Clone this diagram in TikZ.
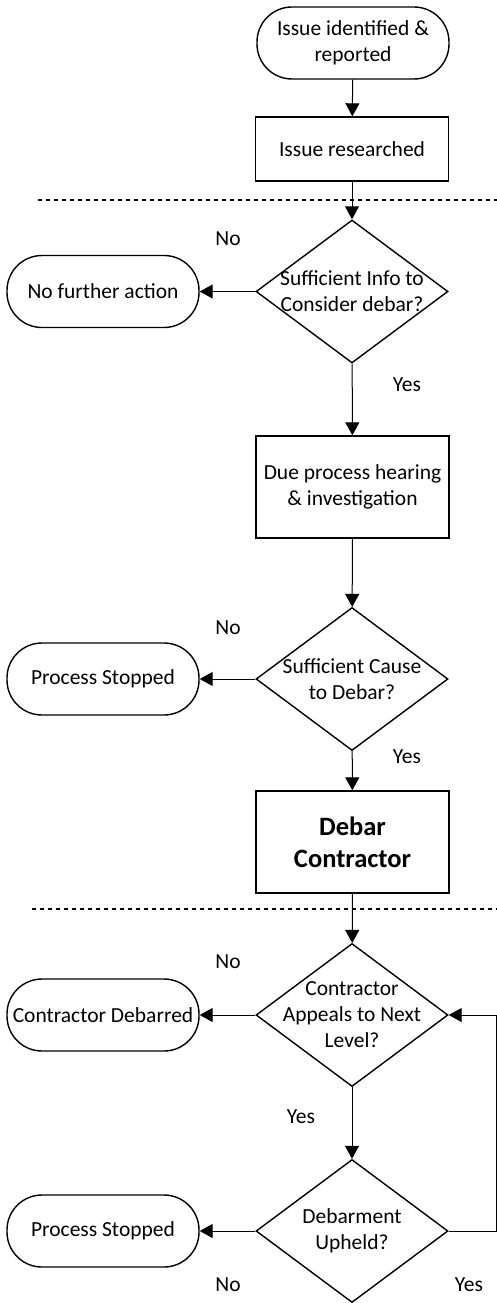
\documentclass[tikz,border=0pt]{standalone}
\usepackage{fontspec}
\setmainfont{Carlito}
\usetikzlibrary{shapes.geometric,arrows.meta}
\begin{document}
\begin{tikzpicture}[x=1pt,y=-1pt,
  every node/.style={font=\fontsize{21.5}{26}\selectfont, align=center, inner sep=0pt},
  term/.style={draw, line width=1.4pt, rounded corners=35pt, minimum width=192pt, minimum height=72pt},
  procbox/.style={draw, line width=1.4pt, minimum width=193pt},
  dia/.style={draw, diamond, line width=1.4pt, minimum width=192pt, minimum height=143pt},
  lbl/.style={font=\fontsize{21.5}{26}\selectfont},
  conn/.style={line width=1pt, -{Triangle[length=13pt,width=14pt]}},
  sep/.style={line width=2pt, dash pattern=on 4pt off 4pt}]
\useasboundingbox (0,0) rectangle (497,1303);
% separators
\draw[sep] (38,200) -- (497,200);
\draw[sep] (32,909) -- (497,909);
% nodes
\node[term] (start) at (353,43) {Issue identified \&\\reported};
\node[procbox, minimum height=64pt] (res) at (352,149) {Issue researched};
\node[dia] (d1) at (352,291.5) {};
\node at (d1) {Sufficient Info to\\Consider debar?};
\node[term] (nfa) at (103,291.5) {No further action};
\node[procbox, minimum height=102pt] (due) at (352.5,487) {Due process hearing\\\& investigation};
\node[dia] (d2) at (352,679) {};
\node at (d2) {Sufficient Cause\\to Debar?};
\node[term] (ps1) at (103,679) {Process Stopped};
\node[procbox, minimum height=102pt, font=\fontsize{26.5}{32}\selectfont\bfseries] (debar) at (352.5,842) {Debar\\Contractor};
\node[dia] (d3) at (352,1015) {};
\node at (d3) {Contractor\\Appeals to Next\\Level?};
\node[term] (cd) at (103,1015) {Contractor Debarred};
\node[dia] (d4) at (352,1231) {};
\node at (d4) {Debarment\\Upheld?};
\node[term] (ps2) at (103,1231) {Process Stopped};
\coordinate (loop) at (496,1231);
% labels
\node[lbl] (n1) at (228,239) {No};
\node[lbl] (y1) at (407,385) {Yes};
\node[lbl] (n2) at (228,628) {No};
\node[lbl] (y2) at (407,757) {Yes};
\node[lbl] (n3) at (228,962) {No};
\node[lbl] (y3) at (301,1117) {Yes};
\node[lbl] (n4) at (228,1285) {No};
\node[lbl] (y4) at (469,1285) {Yes};
% connectors
\draw[conn] (start) -- (res);
\draw[conn] (res) -- (d1);
\draw[conn] (d1.west) -- (nfa.east);
\draw[conn] (d1) -- (due);
\draw[conn] (due) -- (d2);
\draw[conn] (d2.west) -- (ps1.east);
\draw[conn] (d2) -- (debar);
\draw[conn] (debar) -- (d3);
\draw[conn] (d3.west) -- (cd.east);
\draw[conn] (d3) -- (d4);
\draw[conn] (d4.west) -- (ps2.east);
\draw[conn] (d4.east) -- (loop) |- (d3.east);
\end{tikzpicture}
\end{document}
